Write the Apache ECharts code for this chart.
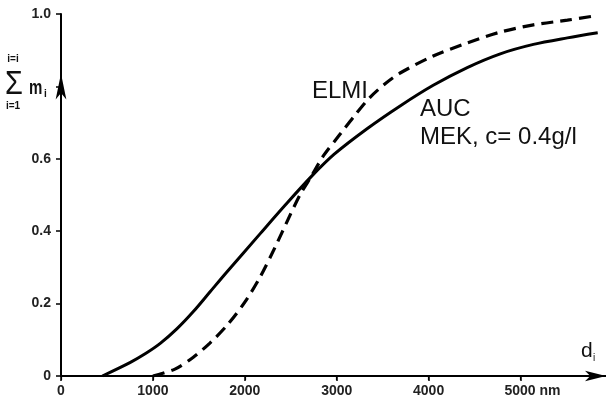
<!DOCTYPE html>
<html>
<head>
<meta charset="utf-8">
<script src="https://cdn.jsdelivr.net/npm/echarts/dist/echarts.min.js"></script>
<style>
html,body{margin:0;padding:0;background:#fff;}
#chart{width:606px;height:405px;}
</style>
</head>
<body>
<div id="chart"></div>
<script>
// Particle diameter d_i (nm) and cumulative mass fraction for the AUC curve (solid)
var dAUC = [450, 750, 920, 1080, 1260, 1440, 1620, 1800, 2170, 2450, 2720, 2970, 3330, 3690, 4050, 4420, 4780, 5140, 5510, 5840];
var mAUC = [0, 0.037, 0.062, 0.090, 0.130, 0.178, 0.232, 0.286, 0.394, 0.475, 0.550, 0.612, 0.683, 0.746, 0.803, 0.852, 0.890, 0.916, 0.934, 0.948];
// ELMI curve (dashed)
var dELMI = [1000, 1240, 1440, 1620, 1810, 2000, 2170, 2330, 2490, 2600, 2720, 2860, 3040, 3200, 3360, 3530, 3690, 4050, 4420, 4780, 5140, 5510, 5790];
var mELMI = [0, 0.019, 0.052, 0.091, 0.141, 0.204, 0.275, 0.356, 0.443, 0.500, 0.550, 0.610, 0.669, 0.721, 0.769, 0.808, 0.837, 0.884, 0.920, 0.950, 0.970, 0.983, 0.994];
// Tick values and labels
var xTicks = [0, 1000, 2000, 3000, 4000, 5000];
var xTickLabels = ['0', '1000', '2000', '3000', '4000', '5000'];
var yTicks = [0, 0.2, 0.4, 0.6, 0.8, 1.0];
var yTickLabels = ['0', '0.2', '0.4', '0.6', '', '1.0'];
var xUnit = 'nm';
var arrowValue = 0.8;

function pairs(xs, ys) { return xs.map(function (x, i) { return [x, ys[i]]; }); }
function lookup(vals, labels, v) {
  for (var i = 0; i < vals.length; i++) { if (Math.abs(vals[i] - v) < 1e-6) return labels[i]; }
  return '';
}

var tickFont = '"Liberation Sans", Arial, sans-serif';
var annFont = '"Liberation Sans", Arial, sans-serif';

var chart = echarts.init(document.getElementById('chart'), null, {renderer: 'canvas'});
chart.setOption({
  animation: false,
  backgroundColor: '#ffffff',
  grid: {left: 61, right: 0, top: 14, bottom: 29, containLabel: false},
  xAxis: [{
    type: 'value', min: 0, max: 5930, interval: 1000,
    splitLine: {show: false},
    axisLine: {show: true, onZero: false, lineStyle: {color: '#000', width: 2},
      symbol: ['none', 'arrow'], symbolSize: [8, 21], symbolOffset: [0, 0]},
    axisTick: {show: true, length: 5, customValues: xTicks, lineStyle: {color: '#000', width: 1.5}},
    axisLabel: {
      margin: 8, color: '#222', fontSize: 14, fontWeight: 'bold', fontFamily: tickFont,
      customValues: xTicks,
      formatter: function (v) {
        var s = lookup(xTicks, xTickLabels, v);
        if (v === 5000) return '{p| }' + s + ' ' + xUnit;
        return s;
      },
      rich: {p: {width: 24}}
    }
  }, {
    type: 'value', position: 'top', min: 0, max: 5930, interval: 1000,
    splitLine: {show: false},
    axisLine: {show: true, lineStyle: {color: '#000', width: 1.5}},
    axisTick: {show: true, inside: true, length: 4, customValues: xTicks, lineStyle: {color: '#000', width: 1.2}},
    axisLabel: {show: false}
  }],
  yAxis: {
    type: 'value', min: 0, max: 1, interval: 0.2,
    splitLine: {show: false},
    axisLine: {show: true, onZero: false, lineStyle: {color: '#000', width: 2}},
    axisTick: {show: true, length: 5, lineStyle: {color: '#000', width: 1.5}},
    axisLabel: {
      margin: 10, color: '#222', fontSize: 14, fontWeight: 'bold', fontFamily: tickFont,
      formatter: function (v) { return lookup(yTicks, yTickLabels, v); }
    }
  },
  series: [{
    name: 'AUC', type: 'line', data: pairs(dAUC, mAUC), smooth: 0.3,
    showSymbol: false, symbol: 'none',
    lineStyle: {color: '#000', width: 3, type: 'solid'},
    markPoint: {
      symbol: 'arrow', symbolSize: [8, 26], symbolOffset: [0, -13],
      itemStyle: {color: '#000'}, label: {show: false},
      data: [{coord: [0, arrowValue]}]
    }
  }, {
    name: 'ELMI', type: 'line', data: pairs(dELMI, mELMI), smooth: 0.3,
    showSymbol: false, symbol: 'none',
    lineStyle: {color: '#000', width: 3.2, type: [12, 7]}
  }],
  graphic: [
    {type: 'text', x: 312, y: 91, style: {text: 'ELMI', font: '24px ' + annFont, fill: '#111', align: 'left', verticalAlign: 'middle'}},
    {type: 'text', x: 420, y: 109, style: {text: 'AUC', font: '24px ' + annFont, fill: '#111', align: 'left', verticalAlign: 'middle'}},
    {type: 'text', x: 420, y: 137, style: {text: 'MEK, c= 0.4g/l', font: '24px ' + annFont, fill: '#111', align: 'left', verticalAlign: 'middle'}},
    {type: 'text', x: 581, y: 351, style: {text: 'd', font: '21px ' + annFont, fill: '#111', align: 'left', verticalAlign: 'middle'}},
    {type: 'text', x: 593, y: 358, style: {text: 'i', font: '10px ' + annFont, fill: '#111', align: 'left', verticalAlign: 'middle'}},
    {type: 'text', x: 13, y: 59, style: {text: 'i=i', font: 'bold 10px ' + tickFont, fill: '#111', align: 'center', verticalAlign: 'middle'}},
    {type: 'text', x: 14, y: 85, scaleX: 0.85, style: {text: 'Σ', font: '34px ' + annFont, fill: '#111', align: 'center', verticalAlign: 'middle'}},
    {type: 'text', x: 29, y: 88, scaleX: 0.75, style: {text: 'm', font: 'bold 20px ' + annFont, fill: '#111', align: 'left', verticalAlign: 'middle'}},
    {type: 'text', x: 44, y: 94, style: {text: 'i', font: 'bold 10px ' + annFont, fill: '#111', align: 'left', verticalAlign: 'middle'}},
    {type: 'text', x: 13, y: 106, style: {text: 'i=1', font: 'bold 10px ' + tickFont, fill: '#111', align: 'center', verticalAlign: 'middle'}}
  ]
});
</script>
</body>
</html>
